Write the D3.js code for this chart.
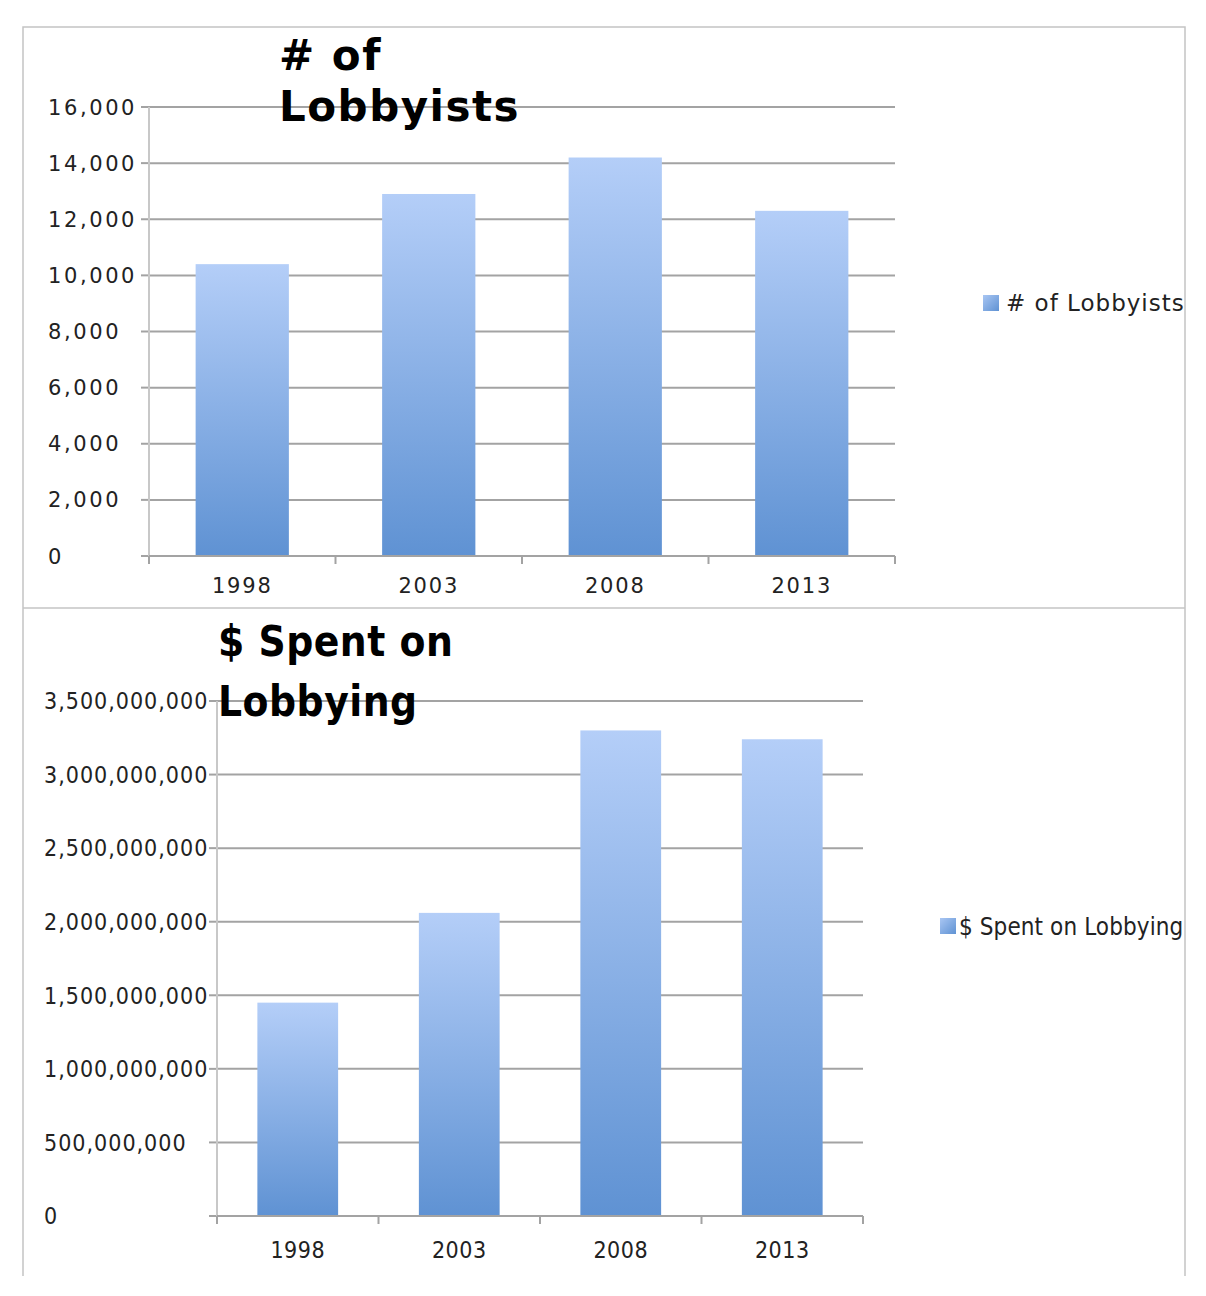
<!DOCTYPE html>
<html><head><meta charset="utf-8">
<script src="https://cdn.jsdelivr.net/npm/d3@7/dist/d3.min.js"></script>
<style>
body{margin:0;background:#fff;}
svg{display:block;}
.v{font-family:"DejaVu Sans",Verdana,sans-serif;}
.c{font-family:"DejaVu Sans Condensed","DejaVu Sans",sans-serif;font-stretch:condensed;}
</style></head>
<body>
<svg id="chart" width="1206" height="1296"></svg>
<script>
const years = ["1998", "2003", "2008", "2013"];
const lobbyists = [10400, 12900, 14200, 12300];
const spending = [1450000000, 2060000000, 3300000000, 3240000000];
const lobbyTicks = [0, 2000, 4000, 6000, 8000, 10000, 12000, 14000, 16000];
const spendTicks = [0, 500000000, 1000000000, 1500000000, 2000000000, 2500000000, 3000000000, 3500000000];
const titles = [["# of", "Lobbyists"], ["$ Spent on", "Lobbying"]];
const legendNames = ["# of Lobbyists", "$ Spent on Lobbying"];

const svg = d3.select("#chart");
const defs = svg.append("defs");
const grad = defs.append("linearGradient").attr("id", "barGrad")
  .attr("x1", 0).attr("y1", 0).attr("x2", 0).attr("y2", 1);
grad.append("stop").attr("offset", "0%").attr("stop-color", "#b4cef8");
grad.append("stop").attr("offset", "100%").attr("stop-color", "#5f92d3");
const lgrad = defs.append("linearGradient").attr("id", "legGrad")
  .attr("x1", 0).attr("y1", 0).attr("x2", 1).attr("y2", 1);
lgrad.append("stop").attr("offset", "0%").attr("stop-color", "#a9c6f3");
lgrad.append("stop").attr("offset", "100%").attr("stop-color", "#5f92d3");

// frame
const frame = svg.append("g").attr("fill", "none").attr("stroke", "#c4c4c4").attr("stroke-width", 1.5);
frame.append("path").attr("d", "M23,1276 V27 H1185 V1276");
frame.append("line").attr("x1", 23).attr("x2", 1185).attr("y1", 608).attr("y2", 608);

function drawChart(o) {
  const g = svg.append("g");
  const x = d3.scaleBand().domain(years).range([o.left, o.right]).paddingInner(0.5).paddingOuter(0.25);
  const xb = d3.scaleBand().domain(years).range([o.left, o.right]);
  const y = d3.scaleLinear().domain([0, o.max]).range([o.bottom, o.top]);

  // gridlines
  g.append("g").selectAll("line").data(o.ticks.filter(t => t > 0)).join("line")
    .attr("x1", o.left).attr("x2", o.right)
    .attr("y1", d => y(d)).attr("y2", d => y(d))
    .attr("stroke", "#a3a3a3").attr("stroke-width", 2);

  // y tick marks
  g.append("g").selectAll("line").data(o.ticks).join("line")
    .attr("x1", o.left - 8).attr("x2", o.left)
    .attr("y1", d => y(d)).attr("y2", d => y(d))
    .attr("stroke", "#a3a3a3").attr("stroke-width", 2);

  // y axis line
  g.append("line").attr("x1", o.left).attr("x2", o.left).attr("y1", y(o.max)).attr("y2", o.bottom)
    .attr("stroke", "#c8c8c8").attr("stroke-width", 2);

  // bars
  g.append("g").selectAll("rect").data(o.values).join("rect")
    .attr("x", (d, i) => x(years[i])).attr("width", x.bandwidth())
    .attr("y", d => y(d)).attr("height", d => o.bottom - y(d))
    .attr("fill", "url(#barGrad)");

  // x axis line and ticks
  g.append("line").attr("x1", o.left).attr("x2", o.right).attr("y1", o.bottom).attr("y2", o.bottom)
    .attr("stroke", "#a3a3a3").attr("stroke-width", 2);
  const bounds = years.map(d => xb(d)).concat([o.right]);
  g.append("g").selectAll("line").data(bounds).join("line")
    .attr("x1", d => d).attr("x2", d => d).attr("y1", o.bottom).attr("y2", o.bottom + 8)
    .attr("stroke", "#a3a3a3").attr("stroke-width", 2);

  // y labels (left aligned)
  g.append("g").selectAll("text").data(o.ticks).join("text")
    .attr("class", o.font).attr("x", o.labelX).attr("y", d => y(d)).attr("dy", "0.36em")
    .attr("font-size", o.yFont).attr("letter-spacing", o.yLs).attr("fill", "#222")
    .text(d => d3.format(",")(d));

  // x labels
  g.append("g").selectAll("text").data(years).join("text")
    .attr("class", o.font).attr("x", d => xb(d) + xb.bandwidth() / 2).attr("y", o.xLabelY)
    .attr("text-anchor", "middle").attr("font-size", o.xFont).attr("letter-spacing", o.xLs).attr("fill", "#222")
    .text(d => d);

  // title
  const t = g.append("text").attr("class", o.font).attr("font-weight", "bold")
    .attr("font-size", o.titleFont).attr("letter-spacing", o.titleLs).attr("fill", "#000");
  o.title.forEach((line, i) => {
    t.append("tspan").attr("x", o.titleX).attr("y", o.titleY + i * o.titleLH).text(line);
  });

  // legend
  g.append("rect").attr("x", o.legX).attr("y", o.legY - 8).attr("width", 16).attr("height", 16)
    .attr("fill", "url(#legGrad)");
  g.append("text").attr("class", o.font).attr("x", o.legX + o.legGap).attr("y", o.legY).attr("dy", "0.36em")
    .attr("font-size", o.legFont).attr("letter-spacing", o.legLs).attr("fill", "#222").text(o.legend);
}

drawChart({
  values: lobbyists, ticks: lobbyTicks, max: 16000,
  left: 149, right: 895, top: 107, bottom: 556,
  font: "v", labelX: 48, yFont: 21, yLs: 2.6, xFont: 21, xLs: 1.8, xLabelY: 593,
  title: titles[0], titleX: 279, titleY: 70, titleLH: 51, titleFont: 42, titleLs: 1.5,
  legend: legendNames[0], legX: 983, legY: 303, legGap: 23, legFont: 23, legLs: 1,
  });

drawChart({
  values: spending, ticks: spendTicks, max: 3500000000,
  left: 217, right: 863, top: 701, bottom: 1216,
  font: "c", labelX: 44, yFont: 23, yLs: 1, xFont: 23, xLs: 0.5, xLabelY: 1258,
  title: titles[1], titleX: 218, titleY: 656, titleLH: 60, titleFont: 42, titleLs: 0.5,
  legend: legendNames[1], legX: 940, legY: 926, legGap: 19, legFont: 24, legLs: 0.1
});
</script>
</body></html>
